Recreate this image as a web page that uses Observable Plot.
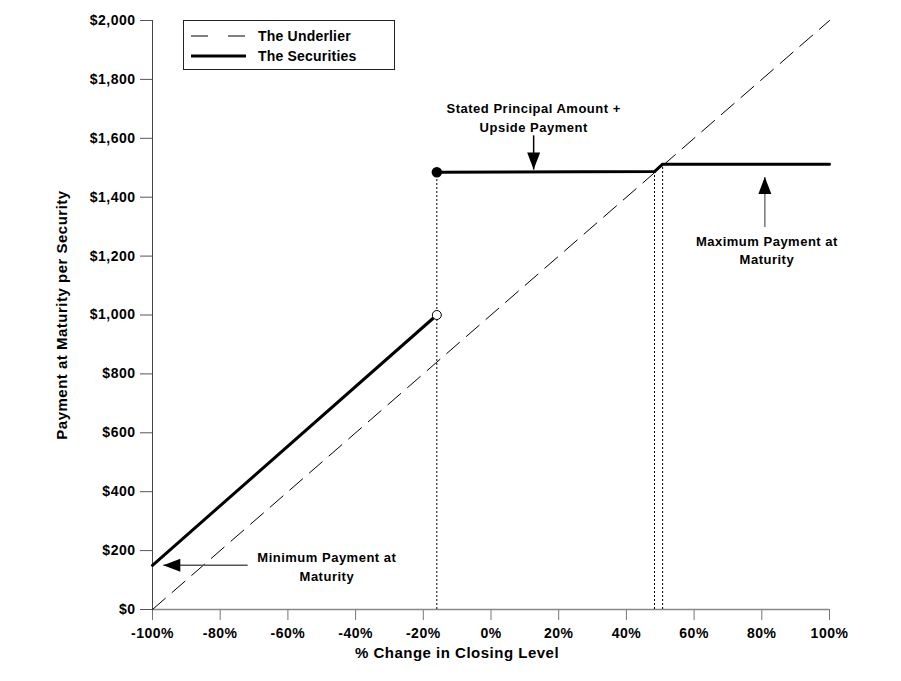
<!DOCTYPE html>
<html>
<head>
<meta charset="utf-8">
<script src="https://cdn.jsdelivr.net/npm/d3@7"></script>
<script src="https://cdn.jsdelivr.net/npm/@observablehq/plot@0.6"></script>
<style>
  html, body { margin: 0; padding: 0; background: #fff; }
  #wrap { position: relative; width: 901px; height: 681px; font-family: "Liberation Sans", Arial, sans-serif; }
  #wrap svg text { letter-spacing: 0.5px; }
  #wrap svg g[aria-label="note"] text { letter-spacing: 0.4px; }
  #wrap svg g[aria-label="axis-title"] text { letter-spacing: 1px; }
  #legend { position: absolute; left: 183px; top: 20px; width: 212px; height: 50px; border: 1px solid #222; background: #fff; box-sizing: border-box; }
  #legend .row { position: absolute; left: 6px; height: 20px; display: flex; align-items: center; font: bold 14px "Liberation Sans", Arial, sans-serif; letter-spacing: 0.2px; color: #000; }
  #legend .row svg { width: 56px; height: 20px; margin-right: 12px; }
</style>
</head>
<body>
<div id="wrap">
  <div id="legend">
    <div class="row" style="top:5px"><svg><line x1="1" y1="10" x2="56" y2="10" stroke="#000" stroke-width="1" stroke-dasharray="17,20"/></svg><span>The Underlier</span></div>
    <div class="row" style="top:25px"><svg><line x1="1" y1="10" x2="56" y2="10" stroke="#000" stroke-width="3"/></svg><span>The Securities</span></div>
  </div>
</div>
<script>
// ---- data ----
const xTicks = [-100, -80, -60, -40, -20, 0, 20, 40, 60, 80, 100];
const yTicks = [0, 200, 400, 600, 800, 1000, 1200, 1400, 1600, 1800, 2000];

const underlierX = [-100, 100];
const underlierY = [0, 2000];

const securitiesX = [-100, -16, -16, 48.3, 50.7, 100];
const securitiesY = [150, 1000, 1485, 1487, 1512, 1512];
const securitiesSegment = [1, 1, 2, 2, 2, 2];

const guideX = [-16, 48.3, 50.7];
const guideTop = [1485, 1487, 1512];

const closedDotX = [-16], closedDotY = [1485];
const openDotX = [-16], openDotY = [1000];

const noteText = ["Stated Principal Amount +\nUpside Payment", "Maximum Payment at\nMaturity", "Minimum Payment at\nMaturity"];
const noteX = [12.6, 81.5, -48.5];
const noteY = [1673, 1224, 150];

// arrows: shaft start (x1,y1) -> tip (x2,y2)
const arrowX1 = [12.6, 80.9, -71.9];
const arrowY1 = [1610, 1299, 150];
const arrowX2 = [12.6, 80.9, -96.8];
const arrowY2 = [1494, 1469, 150];
const arrowShaftColor = ["#000", "#777", "#555"];
const arrowRotate = [180, 0, -90];

const xTitle = "% Change in Closing Level";
const yTitle = "Payment at Maturity per Security";

// ---- build tables ----
const underlier = underlierX.map((x, i) => ({x, y: underlierY[i]}));
const securities = securitiesX.map((x, i) => ({x, y: securitiesY[i], s: securitiesSegment[i]}));
const guides = guideX.map((x, i) => ({x, y2: guideTop[i]}));
const notes = noteText.map((t, i) => ({t, x: noteX[i], y: noteY[i]}));
const arrows = arrowX1.map((x1, i) => ({x1, y1: arrowY1[i], x2: arrowX2[i], y2: arrowY2[i], c: arrowShaftColor[i], r: arrowRotate[i]}));

const triangle = {
  draw(ctx) {
    ctx.moveTo(0, 0);
    ctx.lineTo(-6.5, 17);
    ctx.lineTo(6.5, 17);
    ctx.closePath();
  }
};

const chart = Plot.plot({
  width: 901,
  height: 681,
  marginLeft: 152,
  marginRight: 72,
  marginTop: 20,
  marginBottom: 72,
  style: {fontFamily: "'Liberation Sans', Arial, sans-serif", fontWeight: "bold", fontSize: "14px", color: "#000", background: "transparent"},
  x: {domain: [-100, 100], label: null},
  y: {domain: [0, 2000], label: null},
  marks: [
    Plot.axisX({ticks: xTicks, tickFormat: d => `${d}%`, tickSize: 11, tickPadding: 8, stroke: "#777", fill: "#000", label: null}),
    Plot.axisY({ticks: yTicks, tickFormat: d3.format("$,"), tickSize: 12, tickPadding: 5, stroke: "#555", fill: "#000", label: null}),
    Plot.ruleY([0], {stroke: "#888", strokeWidth: 1.5}),
    Plot.ruleX([-100], {stroke: "#444", strokeWidth: 1}),
    Plot.ruleX(guides, {x: "x", y1: 0, y2: "y2", stroke: "#000", strokeWidth: 1, strokeDasharray: "2,2"}),
    Plot.line(underlier, {x: "x", y: "y", stroke: "#000", strokeWidth: 1, strokeDasharray: "17,9"}),
    Plot.line(securities, {x: "x", y: "y", z: "s", stroke: "#000", strokeWidth: 3}),
    Plot.dot(closedDotX.map((x, i) => ({x, y: closedDotY[i]})), {x: "x", y: "y", r: 4.5, fill: "#000", stroke: "#000"}),
    Plot.dot(openDotX.map((x, i) => ({x, y: openDotY[i]})), {x: "x", y: "y", r: 4.5, fill: "#fff", stroke: "#000", strokeWidth: 1}),
    Plot.link(arrows, {x1: "x1", y1: "y1", x2: "x2", y2: "y2", stroke: "c", strokeWidth: 1.5}),
    Plot.dot(arrows.filter(d => d.r === 180), {x: "x2", y: "y2", symbol: triangle, fill: "#000", stroke: null, rotate: 180}),
    Plot.dot(arrows.filter(d => d.r === 0), {x: "x2", y: "y2", symbol: triangle, fill: "#000", stroke: null, rotate: 0}),
    Plot.dot(arrows.filter(d => d.r === -90), {x: "x2", y: "y2", symbol: triangle, fill: "#000", stroke: null, rotate: -90}),
    Plot.text(notes, {x: "x", y: "y", text: "t", fontSize: 13, fontWeight: "bold", lineHeight: 1.45, fill: "#000", ariaLabel: "note"}),
    Plot.text([xTitle], {frameAnchor: "bottom", textAnchor: "middle", dx: -34, dy: 48, fontSize: 15, fontWeight: "bold", fill: "#000", ariaLabel: "axis-title"}),
    Plot.text([yTitle], {frameAnchor: "left", textAnchor: "middle", rotate: -90, dx: -90, fontSize: 15, fontWeight: "bold", fill: "#000", ariaLabel: "axis-title"})
  ]
});
chart.style.position = "absolute";
chart.style.left = "0";
chart.style.top = "0";
document.getElementById("wrap").prepend(chart);
</script>
</body>
</html>
